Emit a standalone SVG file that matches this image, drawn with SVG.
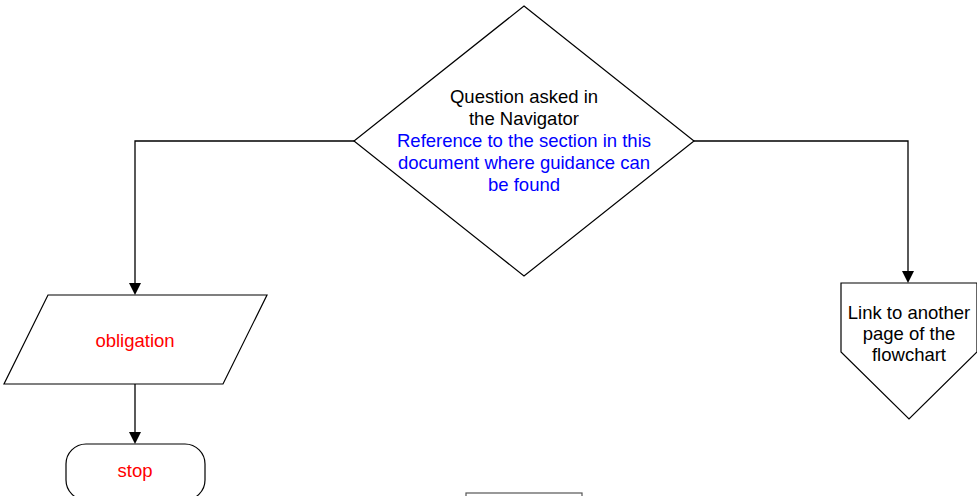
<svg xmlns="http://www.w3.org/2000/svg" width="977" height="496" viewBox="0 0 977 496">
<style>
.shape{fill:#fff;stroke:#000;stroke-width:1.2}
.conn{fill:none;stroke:#000;stroke-width:1.3}
.head{fill:#000}
text{font-family:"Liberation Sans",Arial,sans-serif;font-size:18.5px;text-anchor:middle}
.blk{fill:#000}
.blue{fill:#0000ff}
.red{fill:#ff0000}
</style>
<rect width="977" height="496" fill="#fff"/>
<g id="connectors">
<path class="conn" d="M354,141 H135 V283"/>
<path class="conn" d="M135,384 V432"/>
<path class="conn" d="M694,141 H908 V271"/>
<path class="head" d="M129,283 L141,283 L135,295 Z"/>
<path class="head" d="M129,432 L141,432 L135,444 Z"/>
<path class="head" d="M902,271 L914,271 L908,283 Z"/>
</g>
<g id="decision">
<polygon class="shape" points="524,6 694,141 524,276 354,141"/>
<text class="blk" x="524" y="103">Question asked in</text>
<text class="blk" x="524" y="125">the Navigator</text>
<text class="blue" x="524" y="147">Reference to the section in this</text>
<text class="blue" x="524" y="169">document where guidance can</text>
<text class="blue" x="524" y="191">be found</text>
</g>
<g id="obligation">
<polygon class="shape" points="48,295 267,295 223,384 4,384"/>
<text class="red" x="135" y="347">obligation</text>
</g>
<g id="stop">
<rect class="shape" x="66" y="444" width="139" height="56" rx="20" ry="20"/>
<text class="red" x="135" y="477">stop</text>
</g>
<g id="offpage">
<polygon class="shape" points="841,283 977,283 977,352 909,419 841,352"/>
<text class="blk" x="909" y="319">Link to another</text>
<text class="blk" x="909" y="340">page of the</text>
<text class="blk" x="909" y="361">flowchart</text>
</g>
<g id="box">
<rect x="466" y="493" width="116" height="20" fill="#fff" stroke="#555" stroke-width="1.2"/>
</g>
</svg>
